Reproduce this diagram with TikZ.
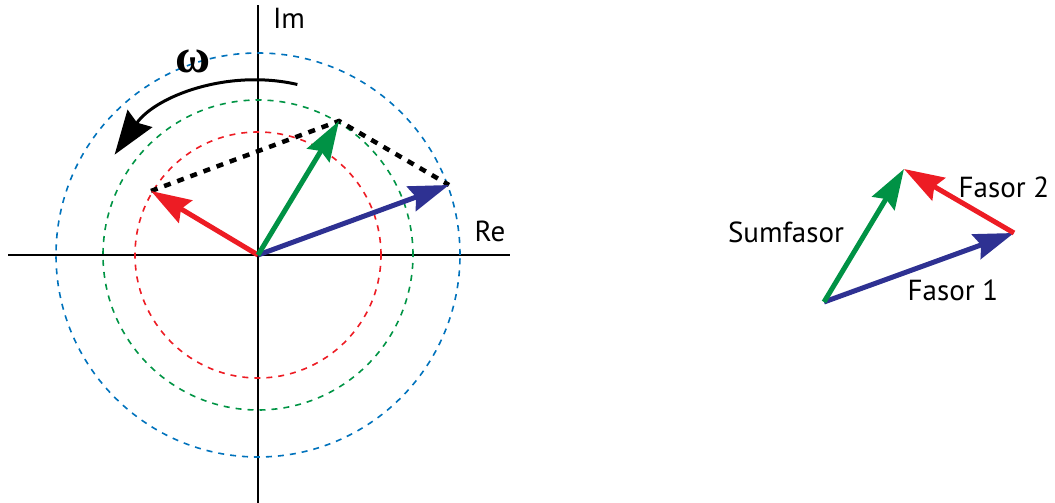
\documentclass[tikz,border=0pt]{standalone}
\usepackage{fontspec}
\setmainfont{PT Sans}
\newfontfamily\grkfont{Liberation Serif}
\usetikzlibrary{arrows.meta}
\definecolor{cblue}{RGB}{0,114,188}
\definecolor{cgreen}{RGB}{0,148,68}
\definecolor{cred}{RGB}{237,28,36}
\definecolor{ablue}{RGB}{46,49,146}
\definecolor{agreen}{RGB}{0,146,69}
\definecolor{ared}{RGB}{237,28,36}
\tikzset{
  axis/.style={line width=2pt, black},
  circ/.style={line width=1.6pt, dash pattern=on 6pt off 6pt},
  phasor/.style={line width=5pt, -{Stealth[length=40pt,width=26pt,inset=5pt]}},
  sumline/.style={line width=4.5pt, black, dash pattern=on 7pt off 7pt},
  lbl/.style={font=\fontsize{29}{29}\selectfont, inner sep=0pt},
}
\begin{document}
\begin{tikzpicture}[x=1pt,y=1pt]
\useasboundingbox (0,0) rectangle (1055,503);
% axes
\coordinate (O) at (258,248);
\coordinate (xl) at (8,248);
\coordinate (xr) at (510,248);
\coordinate (yb) at (258,0);
\coordinate (yt) at (258,498);
\draw[axis] (xl) -- (xr);
\draw[axis] (yb) -- (yt);
% circles
\draw[circ, cblue] (O) circle[radius=202];
\draw[circ, cgreen] (O) circle[radius=155];
\draw[circ, cred] (O) circle[radius=123];
% tips
\coordinate (B) at (449,318);
\coordinate (R) at (151,312);
\coordinate (G) at (339,382);
\draw[sumline] (R) -- (G) -- (B);
\draw[phasor, ablue] (O) -- (B);
\draw[phasor, ared] (O) -- (R);
\draw[phasor, agreen] (O) -- (G);
% omega arc
\coordinate (W0) at ([shift={(77:175)}]O);
\draw[line width=3pt, -{Stealth[length=44pt,width=30pt,inset=5pt]}] (W0) arc[start angle=77, end angle=145, radius=175];
\node[inner sep=0pt, font=\grkfont\bfseries\fontsize{48}{48}\selectfont] (omega) at (193,442) {ω};
\node[lbl] (im) at (289,485) {Im};
\node[lbl] (re) at (490,272) {Re};
% right triangle
\coordinate (P0) at (824,201);
\coordinate (P1) at (1014,270);
\coordinate (P2) at (904,334);
\draw[phasor, ablue] (P0) -- (P1);
\draw[phasor, ared] (P1) -- (P2);
\draw[phasor, agreen] (P0) -- (P2);
\node[lbl] (sum) at (786,271) {Sumfasor};
\node[lbl] (f2) at (1004,316) {Fasor 2};
\node[lbl] (f1) at (953,213) {Fasor 1};
\end{tikzpicture}
\end{document}
